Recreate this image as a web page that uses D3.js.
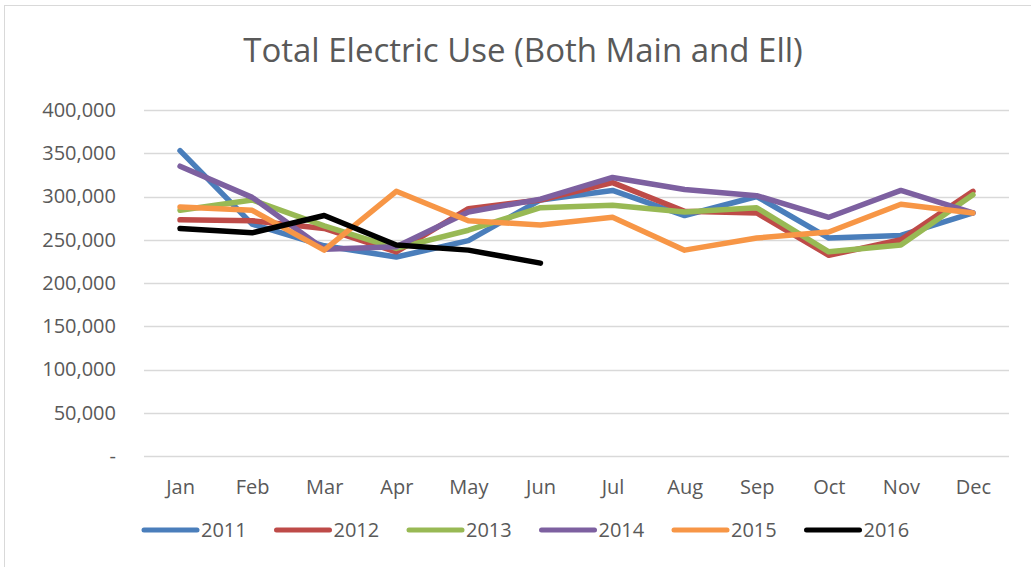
<!DOCTYPE html>
<html>
<head>
<meta charset="utf-8">
<script src="https://cdn.jsdelivr.net/npm/d3@7"></script>
<style>
  body { margin: 0; background: #fff; }
  text { font-family: "Open Sans", "Noto Sans", sans-serif; fill: #595959; }
</style>
</head>
<body>
<svg id="chart" width="1031" height="567"></svg>
<script>
// monthly totals per year
const months = ['Jan', 'Feb', 'Mar', 'Apr', 'May', 'Jun', 'Jul', 'Aug', 'Sep', 'Oct', 'Nov', 'Dec']
const years = ['2011', '2012', '2013', '2014', '2015', '2016']
const colors = ['#4a7ebb', '#be4b48', '#98b954', '#7d60a0', '#f79646', '#000000']
const yTicks = [0, 50000, 100000, 150000, 200000, 250000, 300000, 350000, 400000]

const use2011 = [353000, 268000, 243000, 230000, 249000, 296000, 307000, 278000, 300000, 252000, 255000, 281000]
const use2012 = [273000, 272000, 263000, 236000, 286000, 296000, 316000, 283000, 281000, 232000, 250000, 306000]
const use2013 = [284000, 296000, 266000, 240000, 261000, 287000, 290000, 282000, 287000, 236000, 244000, 302000]
const use2014 = [335000, 299000, 239000, 242000, 282000, 297000, 322000, 308000, 301000, 276000, 307000, 281000]
const use2015 = [288000, 284000, 238000, 306000, 272000, 267000, 276000, 238000, 252000, 259000, 291000, 281000]
const use2016 = [263000, 258000, 278000, 244000, 238000, 223000]
const series = [use2011, use2012, use2013, use2014, use2015, use2016]

const svg = d3.select('#chart')
const plot = { left: 144, right: 1009, top: 110, bottom: 456 }

// chart frame
svg.append('rect')
  .attr('x', 4.5).attr('y', 5.5)
  .attr('width', 1040).attr('height', 600)
  .attr('fill', 'none').attr('stroke', '#d9d9d9')

svg.append('text')
  .attr('x', 523).attr('y', 62)
  .attr('text-anchor', 'middle')
  .attr('font-size', 33)
  .text('Total Electric Use (Both Main and Ell)')

const x = d3.scalePoint().domain(months).range([plot.left, plot.right]).padding(0.5)
const y = d3.scaleLinear().domain([0, 400000]).range([plot.bottom, plot.top])

// gridlines
svg.append('g')
  .selectAll('line')
  .data(yTicks)
  .join('line')
  .attr('x1', plot.left).attr('x2', plot.right)
  .attr('y1', d => Math.round(y(d)) + 0.5).attr('y2', d => Math.round(y(d)) + 0.5)
  .attr('stroke', '#d9d9d9').attr('stroke-width', 1.5)

const fmt = d3.format(',')
const yAxis = svg.append('g')
  .attr('transform', `translate(${plot.left},0)`)
  .call(d3.axisLeft(y).tickValues(yTicks).tickSize(0).tickPadding(28)
    .tickFormat(d => d === 0 ? '-' : fmt(d)))
yAxis.select('.domain').remove()
yAxis.selectAll('text').attr('font-size', 20).attr('fill', '#595959')
  .style('font-family', '"Open Sans", sans-serif')

const xAxis = svg.append('g')
  .attr('transform', `translate(0,${plot.bottom})`)
  .call(d3.axisBottom(x).tickSize(0).tickPadding(24))
xAxis.select('.domain').remove()
xAxis.selectAll('text').attr('font-size', 20).attr('fill', '#595959')
  .style('font-family', '"Open Sans", sans-serif')

const line = d3.line()
  .x((d, i) => x(months[i]))
  .y(d => y(d))

svg.append('g')
  .selectAll('path')
  .data(series)
  .join('path')
  .attr('d', line)
  .attr('fill', 'none')
  .attr('stroke', (d, i) => colors[i])
  .attr('stroke-width', 5.5)
  .attr('stroke-linejoin', 'round')
  .attr('stroke-linecap', 'round')

// legend
const legend = svg.append('g')
  .selectAll('g')
  .data(years)
  .join('g')
  .attr('transform', (d, i) => `translate(${144 + i * 132.5},530)`)

legend.append('line')
  .attr('x1', 0).attr('x2', 53)
  .attr('stroke', (d, i) => colors[i])
  .attr('stroke-width', 5)
  .attr('stroke-linecap', 'round')

legend.append('text')
  .attr('x', 57).attr('y', 7)
  .attr('font-size', 20)
  .text(d => d)
</script>
</body>
</html>
